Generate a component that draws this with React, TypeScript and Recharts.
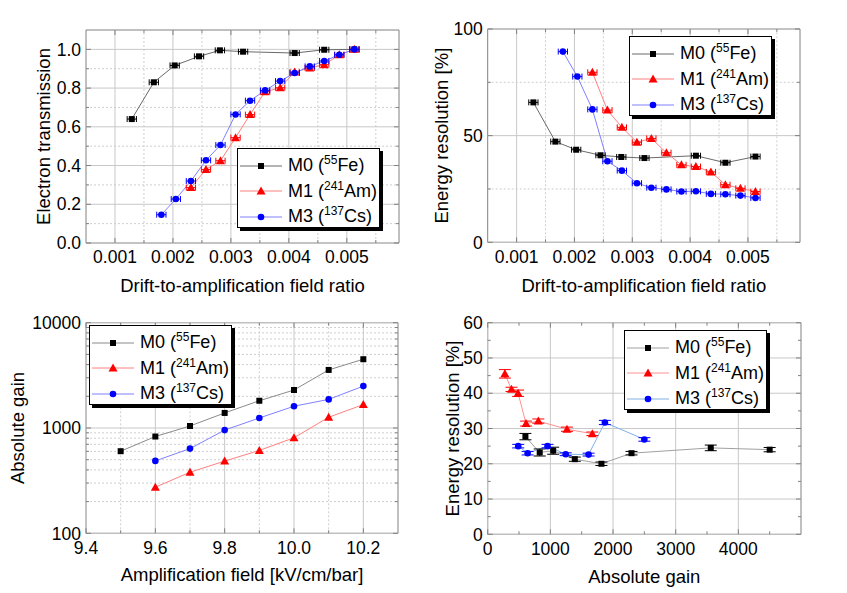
import React from 'react'
import {
  ComposedChart, Line, Scatter, XAxis, YAxis,
  ReferenceLine, ReferenceArea, ErrorBar,
} from 'recharts'

// drift-to-amplification field ratio for each source
const m0Ratio = [0.00129, 0.00167, 0.00203, 0.00245, 0.00281, 0.00321, 0.0041, 0.00461, 0.00513]
const m1Ratio = [0.00231, 0.00257, 0.00282, 0.00308, 0.00333, 0.00359, 0.00385, 0.0041, 0.00436, 0.00461, 0.00487, 0.00513]
const m3Ratio = [0.0018, 0.00205, 0.00231, 0.00257, 0.00282, 0.00308, 0.00333, 0.00359, 0.00385, 0.0041, 0.00436, 0.00461, 0.00487, 0.00513]

// electron transmission
const m0Trans = [0.64, 0.83, 0.917, 0.964, 0.995, 0.988, 0.981, 0.998, 1.0]
const m1Trans = [0.286, 0.38, 0.425, 0.544, 0.663, 0.781, 0.802, 0.883, 0.904, 0.921, 0.972, 1.0]
const m3Trans = [0.146, 0.227, 0.32, 0.427, 0.506, 0.664, 0.735, 0.788, 0.836, 0.878, 0.912, 0.94, 0.972, 1.0]

// energy resolution [%] vs ratio
const m0ResRatio = [65.6, 47.2, 43.4, 40.8, 40.0, 39.5, 40.6, 37.3, 40.2]
const m1ResRatio = [79.7, 62.0, 53.9, 46.9, 48.7, 42.0, 36.3, 35.5, 33.0, 27.0, 25.3, 23.8]
const m3ResRatio = [89.4, 77.7, 62.3, 38.0, 33.6, 27.7, 25.6, 24.8, 23.8, 23.9, 22.7, 22.5, 21.9, 20.8]

// horizontal uncertainty on the ratio
const ratioErr = 0.00008

// amplification field [kV/cm/bar]
const m0Field = [9.5, 9.6, 9.7, 9.8, 9.9, 10.0, 10.1, 10.2]
const m1Field = [9.6, 9.7, 9.8, 9.9, 10.0, 10.1, 10.2]
const m3Field = [9.6, 9.7, 9.8, 9.9, 10.0, 10.1, 10.2]

// absolute gain
const m0Gain = [602, 830, 1045, 1390, 1815, 2295, 3560, 4500]
const m1Gain = [274, 380, 485, 612, 808, 1265, 1670]
const m3Gain = [487, 637, 955, 1245, 1610, 1870, 2500]

// energy resolution [%] vs gain, with errors
const m0ResGain = [27.7, 23.2, 23.7, 21.3, 20.0, 23.0, 24.5, 24.0]
const m1ResGain = [45.5, 41.1, 40.0, 31.4, 32.1, 29.8, 28.5]
const m3ResGain = [25.0, 23.0, 25.0, 22.7, 22.6, 31.7, 26.9]
const m0ResErr = [0.9, 1.0, 1.0, 0.6, 0.5, 0.5, 0.8, 0.6]
const m1ResErr = [1.2, 0.6, 0.9, 0.7, 0.6, 0.6, 0.5]
const m3ResErr = [0.5, 0.5, 0.5, 0.4, 0.4, 0.6, 0.5]

// axis ticks
const ratioTicks = [0.001, 0.002, 0.003, 0.004, 0.005]
const ratioMinor = [0.0015, 0.0025, 0.0035, 0.0045, 0.0055]
const transTicks = [0, 0.2, 0.4, 0.6, 0.8, 1.0]
const transMinor = [0.1, 0.3, 0.5, 0.7, 0.9]
const resTicks = [0, 50, 100]
const resMinor = [25, 75]
const fieldTicks = [9.4, 9.6, 9.8, 10.0, 10.2]
const fieldMinor = [9.5, 9.7, 9.9, 10.1]
const gainTicks = [100, 1000, 10000]
const gainMinor = [200, 300, 400, 500, 600, 700, 800, 900, 2000, 3000, 4000, 5000, 6000, 7000, 8000, 9000]
const absGainTicks = [0, 1000, 2000, 3000, 4000]
const absGainMinor = [500, 1500, 2500, 3500, 4500]
const resGainTicks = [0, 10, 20, 30, 40, 50, 60]
const resGainMinor = [5, 15, 25, 35, 45, 55]

const FONT = '"Liberation Sans", Arial, Helvetica, sans-serif'
const FRAME = '#808080'
const TICK_FONT = 17.5
const TITLE_FONT = 18.5

type Row = { x: number; y: number; e?: number }
const rows = (xs: number[], ys: number[], errs?: number[] | number): Row[] =>
  xs.map((x, i) => ({ x, y: ys[i], e: Array.isArray(errs) ? errs[i] : errs }))

type Shape = 'square' | 'triangle' | 'circle'
const SERIES: { label: string; iso: string; el: string; shape: Shape; color: string }[] = [
  { label: 'M0', iso: '55', el: 'Fe', shape: 'square', color: '#000000' },
  { label: 'M1', iso: '241', el: 'Am', shape: 'triangle', color: '#ff0000' },
  { label: 'M3', iso: '137', el: 'Cs', shape: 'circle', color: '#0000ff' },
]

function Marker({ cx, cy, shape, color }: { cx: number; cy: number; shape: Shape; color: string }) {
  if (shape === 'square') return <rect x={cx - 3} y={cy - 3} width={6} height={6} fill={color} />
  if (shape === 'triangle')
    return <polygon points={`${cx},${cy - 4.5} ${cx + 4.5},${cy + 3.5} ${cx - 4.5},${cy + 3.5}`} fill={color} />
  return <circle cx={cx} cy={cy} r={3.3} fill={color} />
}

function LegendBox({ left, top, lines }: { left: number; top: number; lines: string[] }) {
  return (
    <div style={{
      position: 'absolute', left, top, width: 141, height: 78, background: '#fff',
      border: '1px solid #000', boxShadow: '3px 3px 0 #000', fontSize: 18, color: '#000',
    }}>
      {SERIES.map((s, i) => (
        <div key={s.label} style={{ position: 'absolute', left: 0, top: 4 + i * 25.5, height: 25, display: 'flex', alignItems: 'center' }}>
          <svg width={46} height={14} style={{ marginLeft: 1 }}>
            <line x1={1} y1={7} x2={43} y2={7} stroke={lines[i]} strokeWidth={1} />
            <Marker cx={22} cy={7} shape={s.shape} color={s.color} />
          </svg>
          <span style={{ marginLeft: 3, whiteSpace: 'nowrap', lineHeight: '25px' }}>
            {s.label} (<sup style={{ fontSize: 12, lineHeight: 0 }}>{s.iso}</sup>{s.el})
          </span>
        </div>
      ))}
    </div>
  )
}

interface PanelProps {
  left: number; top: number; width: number; height: number
  margin: { top: number; right: number; bottom: number; left: number }
  yWidth: number; xHeight: number; yLabelOffset: number
  xDomain: [number, number]; xTicks: number[]; xMinor: number[]; xFmt: (v: number) => string; xLabel: string
  yDomain: [number, number]; yTicks: number[]; yMinor: number[]; yFmt: (v: number) => string; yLabel: string
  yScale?: 'log' | 'linear'
  minorGrid: boolean
  data: Row[][]
  errDir?: 'x' | 'y'
  lineColors: string[]
  legend: { left: number; top: number }
}

function Panel(p: PanelProps) {
  const yScale = p.yScale ?? 'linear'
  const plotTop = p.margin.top
  const plotLeft = p.margin.left + p.yWidth
  const plotRight = p.width - p.margin.right
  const xMajor = new Set(p.xTicks)
  const yMajor = new Set(p.yTicks)
  const byValue = (a: number, b: number) => a - b

  // label for major ticks plus inward marks on both opposite edges
  const xTick = ({ x, y, payload }: any) => {
    const major = xMajor.has(payload.value)
    const axisY = y - 8
    const len = major ? 5 : 3
    return (
      <g>
        <line x1={x} x2={x} y1={axisY} y2={axisY - len} stroke={FRAME} />
        <line x1={x} x2={x} y1={plotTop} y2={plotTop + len} stroke={FRAME} />
        {major && (
          <text x={x} y={y} dy="0.71em" textAnchor="middle" fontSize={TICK_FONT} fill="#000">
            {p.xFmt(payload.value)}
          </text>
        )}
      </g>
    )
  }
  const yTick = ({ x, y, payload }: any) => {
    const major = yMajor.has(payload.value)
    const len = major ? 5 : 3
    return (
      <g>
        <line x1={plotLeft} x2={plotLeft + len} y1={y} y2={y} stroke={FRAME} />
        <line x1={plotRight} x2={plotRight - len} y1={y} y2={y} stroke={FRAME} />
        {major && (
          <text x={x} y={y} dy="0.355em" textAnchor="end" fontSize={TICK_FONT} fill="#000">
            {p.yFmt(payload.value)}
          </text>
        )}
      </g>
    )
  }

  return (
    <div style={{ position: 'absolute', left: p.left, top: p.top, width: p.width, height: p.height }}>
      <ComposedChart width={p.width} height={p.height} margin={p.margin}>
        {p.minorGrid && p.xMinor.map((v) => (
          <ReferenceLine key={'mx' + v} x={v} stroke="#cfcfcf" strokeDasharray="2 2" />
        ))}
        {p.minorGrid && p.yMinor.map((v) => (
          <ReferenceLine key={'my' + v} y={v} stroke="#cfcfcf" strokeDasharray="2 2" />
        ))}
        {p.xTicks.map((v) => (
          <ReferenceLine key={'gx' + v} x={v} stroke="#c8c8c8" />
        ))}
        {p.yTicks.map((v) => (
          <ReferenceLine key={'gy' + v} y={v} stroke="#c8c8c8" />
        ))}
        <XAxis
          type="number" dataKey="x" domain={p.xDomain} ticks={[...p.xTicks, ...p.xMinor].sort(byValue)} interval={0}
          allowDataOverflow axisLine={false} tickLine={false}
          tickSize={4} tickMargin={4} height={p.xHeight} tick={xTick}
          label={{ value: p.xLabel, position: 'insideBottom', offset: 0, fontSize: TITLE_FONT, fill: '#000' }}
        />
        <YAxis
          type="number" scale={yScale} domain={p.yDomain} ticks={[...p.yTicks, ...p.yMinor].sort(byValue)} interval={0}
          allowDataOverflow axisLine={false} tickLine={false}
          tickSize={2} tickMargin={3} width={p.yWidth} tick={yTick}
          label={{
            value: p.yLabel, angle: -90, position: 'insideLeft', offset: p.yLabelOffset,
            fontSize: TITLE_FONT, fill: '#000', style: { textAnchor: 'middle' },
          }}
        />
        <ReferenceArea
          x1={p.xDomain[0]} x2={p.xDomain[1]} y1={p.yDomain[0]} y2={p.yDomain[1]}
          fill="none" fillOpacity={0} stroke={FRAME} strokeWidth={1}
        />
        {p.data.map((d, i) => (
          <Line
            key={'l' + SERIES[i].label}
            data={d}
            dataKey="y"
            type="linear"
            stroke={p.lineColors[i]}
            strokeWidth={1}
            isAnimationActive={false}
            dot={false}
            activeDot={false}
          />
        ))}
        {p.data.map((d, i) => {
          const s = SERIES[i]
          return (
            <Scatter
              key={'s' + s.label}
              data={d}
              dataKey="y"
              isAnimationActive={false}
              fill={s.color}
              shape={(sp: any) => <Marker cx={sp.cx} cy={sp.cy} shape={s.shape} color={s.color} />}
            >
              {p.errDir && (
                <ErrorBar
                  dataKey="e" direction={p.errDir} width={p.errDir === 'y' ? 6 : 3}
                  stroke={s.color} strokeWidth={1} isAnimationActive={false}
                />
              )}
            </Scatter>
          )
        })}
      </ComposedChart>
      <LegendBox left={p.legend.left} top={p.legend.top} lines={p.lineColors} />
    </div>
  )
}

export default function App() {
  const fmt3 = (v: number) => v.toFixed(3)
  const fmt1 = (v: number) => v.toFixed(1)
  const fmt0 = (v: number) => String(v)
  return (
    <div style={{ position: 'absolute', left: 0, top: 0, width: 847, height: 593, background: '#fff', fontFamily: FONT }}>
      <Panel
        left={0} top={0} width={420} height={300}
        margin={{ top: 30, right: 21, bottom: 8.5, left: 0 }}
        yWidth={86} xHeight={48.5} yLabelOffset={43}
        xDomain={[0.0005, 0.0059]} xTicks={ratioTicks} xMinor={ratioMinor} xFmt={fmt3}
        xLabel="Drift-to-amplification field ratio"
        yDomain={[0, 1.1]} yTicks={transTicks} yMinor={transMinor} yFmt={fmt1}
        yLabel="Electron transmission" minorGrid
        data={[rows(m0Ratio, m0Trans, ratioErr), rows(m1Ratio, m1Trans, ratioErr), rows(m3Ratio, m3Trans, ratioErr)]}
        errDir="x" lineColors={['#6a6a6a', '#ff8080', '#8080ff']}
        legend={{ left: 237, top: 148 }}
      />
      <Panel
        left={420} top={0} width={420} height={300}
        margin={{ top: 29, right: 40, bottom: 7.7, left: 0 }}
        yWidth={67.7} xHeight={50} yLabelOffset={21}
        xDomain={[0.0005, 0.0059]} xTicks={ratioTicks} xMinor={ratioMinor} xFmt={fmt3}
        xLabel="Drift-to-amplification field ratio"
        yDomain={[0, 100]} yTicks={resTicks} yMinor={resMinor} yFmt={fmt0}
        yLabel="Energy resolution [%]" minorGrid
        data={[rows(m0Ratio, m0ResRatio, ratioErr), rows(m1Ratio, m1ResRatio, ratioErr), rows(m3Ratio, m3ResRatio, ratioErr)]}
        errDir="x" lineColors={['#6a6a6a', '#ff8080', '#8080ff']}
        legend={{ left: 209, top: 36 }}
      />
      <Panel
        left={0} top={300} width={420} height={293}
        margin={{ top: 22.7, right: 22, bottom: 11.7, left: 0 }}
        yWidth={86} xHeight={48} yLabelOffset={17}
        xDomain={[9.4, 10.3]} xTicks={fieldTicks} xMinor={fieldMinor} xFmt={fmt1}
        xLabel="Amplification field [kV/cm/bar]"
        yDomain={[100, 10000]} yTicks={gainTicks} yMinor={gainMinor} yFmt={fmt0} yScale="log"
        yLabel="Absolute gain" minorGrid
        data={[rows(m0Field, m0Gain), rows(m1Field, m1Gain), rows(m3Field, m3Gain)]}
        lineColors={['#8a8a8a', '#ff8080', '#8080ff']}
        legend={{ left: 89, top: 25 }}
      />
      <Panel
        left={420} top={300} width={420} height={293}
        margin={{ top: 22.7, right: 39, bottom: 9.7, left: 0 }}
        yWidth={67.7} xHeight={49} yLabelOffset={32}
        xDomain={[0, 5000]} xTicks={absGainTicks} xMinor={absGainMinor} xFmt={fmt0}
        xLabel="Absolute gain"
        yDomain={[0, 60]} yTicks={resGainTicks} yMinor={resGainMinor} yFmt={fmt0}
        yLabel="Energy resolution [%]" minorGrid={false}
        data={[rows(m0Gain, m0ResGain, m0ResErr), rows(m1Gain, m1ResGain, m1ResErr), rows(m3Gain, m3ResGain, m3ResErr)]}
        errDir="y" lineColors={['#a0a0a0', '#ff9090', '#80b0e8']}
        legend={{ left: 204, top: 30 }}
      />
    </div>
  )
}
